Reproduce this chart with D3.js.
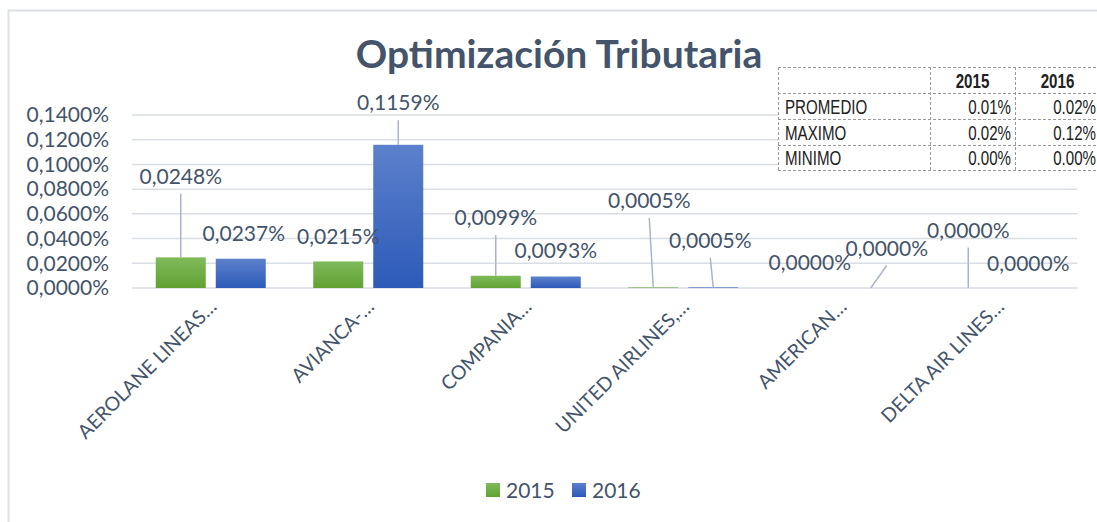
<!DOCTYPE html>
<html>
<head>
<meta charset="utf-8">
<script src="https://cdn.jsdelivr.net/npm/d3@7"></script>
<style>
  body { margin: 0; background: #fff; }
</style>
</head>
<body>
<div id="chart"></div>
<script>
const categories = ["AEROLANE LINEAS…", "AVIANCA-…", "COMPANIA…", "UNITED AIRLINES,…", "AMERICAN…", "DELTA AIR LINES…"];
const seriesNames = ["2015", "2016"];
const values2015 = [0.0248, 0.0215, 0.0099, 0.0005, 0.0000, 0.0000];
const values2016 = [0.0237, 0.1159, 0.0093, 0.0005, 0.0000, 0.0000];
const yTicks = [0, 0.02, 0.04, 0.06, 0.08, 0.10, 0.12, 0.14];

const statNames = ["PROMEDIO", "MAXIMO", "MINIMO"];
const stats2015 = ["0.01%", "0.02%", "0.00%"];
const stats2016 = ["0.02%", "0.12%", "0.00%"];

// manual label nudges [dx, dy from bar top] as placed in the original
const labelNudge2015 = [[0, -81], [0, -25], [0, -58], [-4, -87], [-1, -26], [0, -58]];
const labelNudge2016 = [[3, -25], [0, -42], [0, -26], [-3, -47], [16, -40], [0, -25]];

const width = 1097, height = 522;
const textColor = "#44546A";
const mainFont = "Lato, 'Open Sans', sans-serif";
const tableFont = "'Liberation Sans', Arial, sans-serif";
const colors = { "2015": ["#7FBA5B", "#61A232"], "2016": ["#5C80CB", "#2D5BB8"] };

const svg = d3.select("#chart").append("svg")
    .attr("width", width)
    .attr("height", height)
    .style("font-family", mainFont);

const defs = svg.append("defs");
seriesNames.forEach(s => {
    const g = defs.append("linearGradient")
        .attr("id", "grad" + s)
        .attr("x1", 0).attr("y1", 0).attr("x2", 0).attr("y2", 1);
    g.append("stop").attr("offset", "0%").attr("stop-color", colors[s][0]);
    g.append("stop").attr("offset", "100%").attr("stop-color", colors[s][1]);
});

// chart frame
svg.append("path")
    .attr("d", "M8.5," + height + "V10.5H" + width)
    .attr("fill", "none")
    .attr("stroke", "#DCE0E7")
    .attr("stroke-width", 2);

const x0 = d3.scaleBand().domain(categories).range([132, 1077]);
const x1 = d3.scaleBand().domain(seriesNames)
    .range([23.75, 133.75])
    .paddingInner(1 / 6);
const y = d3.scaleLinear().domain([0, 0.14]).range([288, 115]);

const fmt = v => d3.format(".4f")(v).replace(".", ",") + "%";

// gridlines
svg.append("g")
    .selectAll("line")
    .data(yTicks)
    .join("line")
    .attr("x1", 132).attr("x2", 1077)
    .attr("y1", d => y(d)).attr("y2", d => y(d))
    .attr("stroke", "#D9DEE6")
    .attr("stroke-width", 1.5);

// y axis labels
const yAxis = svg.append("g")
    .attr("transform", "translate(122,0)")
    .call(d3.axisLeft(y).tickValues(yTicks).tickFormat(fmt).tickSize(0).tickPadding(13));
yAxis.select(".domain").remove();
yAxis.selectAll("text")
    .attr("font-size", 21)
    .style("font-family", mainFont)
    .attr("fill", textColor);

// x axis labels
const xAxis = svg.append("g")
    .attr("transform", "translate(0,288)")
    .call(d3.axisBottom(x0).tickSize(0).tickPadding(0));
xAxis.select(".domain").remove();
xAxis.selectAll("text")
    .attr("font-size", 19.5)
    .style("font-family", mainFont)
    .attr("fill", textColor)
    .attr("text-anchor", "end")
    .attr("dy", null)
    .attr("transform", "translate(7,20) rotate(-45)");

const rows = categories.map((c, i) => ({
    cat: c,
    bars: [
        { s: "2015", v: values2015[i], nudge: labelNudge2015[i] },
        { s: "2016", v: values2016[i], nudge: labelNudge2016[i] }
    ]
}));

const groups = svg.append("g")
    .selectAll("g")
    .data(rows)
    .join("g")
    .attr("transform", d => "translate(" + x0(d.cat) + ",0)");

groups.selectAll("rect")
    .data(d => d.bars.filter(b => b.v > 0))
    .join("rect")
    .attr("x", d => x1(d.s))
    .attr("width", x1.bandwidth())
    .attr("y", d => Math.min(y(d.v), y(0) - 1))
    .attr("height", d => Math.max(y(0) - y(d.v), 1))
    .attr("fill", d => "url(#grad" + d.s + ")")
    .attr("fill-opacity", d => y(0) - y(d.v) < 1 ? 0.6 : 1);

// leader lines
groups.selectAll("line.leader")
    .data(d => d.bars.filter(b => b.nudge[1] < -35))
    .join("line")
    .attr("class", "leader")
    .attr("x1", d => x1(d.s) + x1.bandwidth() / 2 + d.nudge[0])
    .attr("y1", d => y(d.v) + d.nudge[1] + 17.5)
    .attr("x2", d => x1(d.s) + x1.bandwidth() / 2)
    .attr("y2", d => y(d.v))
    .attr("stroke", "#A9B6C8")
    .attr("stroke-width", 1.5);

// data labels
groups.selectAll("text.lbl")
    .data(d => d.bars)
    .join("text")
    .attr("class", "lbl")
    .attr("x", d => x1(d.s) + x1.bandwidth() / 2 + d.nudge[0])
    .attr("y", d => y(d.v) + d.nudge[1])
    .attr("dy", "0.36em")
    .attr("text-anchor", "middle")
    .attr("font-size", 21)
    .attr("fill", textColor)
    .text(d => fmt(d.v));

// title
svg.append("text")
    .attr("x", 559)
    .attr("y", 68)
    .attr("text-anchor", "middle")
    .attr("font-size", 39)
    .attr("font-weight", "bold")
    .attr("fill", textColor)
    .text("Optimización Tributaria");

// legend
const legend = svg.append("g")
    .selectAll("g")
    .data(seriesNames)
    .join("g")
    .attr("transform", (d, i) => "translate(" + (486 + i * 86) + ",483)");
legend.append("rect")
    .attr("width", 14).attr("height", 14)
    .attr("fill", d => "url(#grad" + d + ")");
legend.append("text")
    .attr("x", 20).attr("y", 15)
    .attr("font-size", 21)
    .attr("fill", textColor)
    .text(d => d);

// stats table (narrow text is faked with a horizontal squeeze)
const colX = [778, 930, 1015, 1100];
const rowY = [67, 93, 119, 145, 170];
const squeeze = 0.72;
const table = svg.append("g").style("font-family", tableFont);
table.append("rect")
    .attr("x", colX[0]).attr("y", rowY[0])
    .attr("width", colX[3] - colX[0]).attr("height", rowY[4] - rowY[0])
    .attr("fill", "#fff");
const dash = sel => sel.attr("stroke", "#9A9A9A").attr("stroke-width", 1).attr("stroke-dasharray", "3,2");
rowY.forEach(ry => {
    table.append("line").attr("x1", colX[0]).attr("x2", colX[3])
        .attr("y1", ry + 0.5).attr("y2", ry + 0.5).call(dash);
});
colX.forEach(cx => {
    table.append("line").attr("x1", cx + 0.5).attr("x2", cx + 0.5)
        .attr("y1", rowY[0]).attr("y2", rowY[4]).call(dash);
});
const cell = (tx, ty, anchor, txt, bold) => {
    table.append("text")
        .attr("transform", "translate(" + tx + "," + ty + ") scale(" + squeeze + ",1)")
        .attr("text-anchor", anchor)
        .attr("font-weight", bold ? "bold" : "normal")
        .attr("font-size", 21)
        .attr("fill", "#222")
        .text(txt);
};
seriesNames.forEach((s, j) => {
    cell((colX[j + 1] + colX[j + 2]) / 2, rowY[1] - 5, "middle", s, true);
});
statNames.forEach((n, i) => {
    const by = rowY[i + 2] - 5;
    cell(colX[0] + 7, by, "start", n, false);
    cell(colX[2] - 4, by, "end", stats2015[i], false);
    cell(colX[3] - 4, by, "end", stats2016[i], false);
});
</script>
</body>
</html>
